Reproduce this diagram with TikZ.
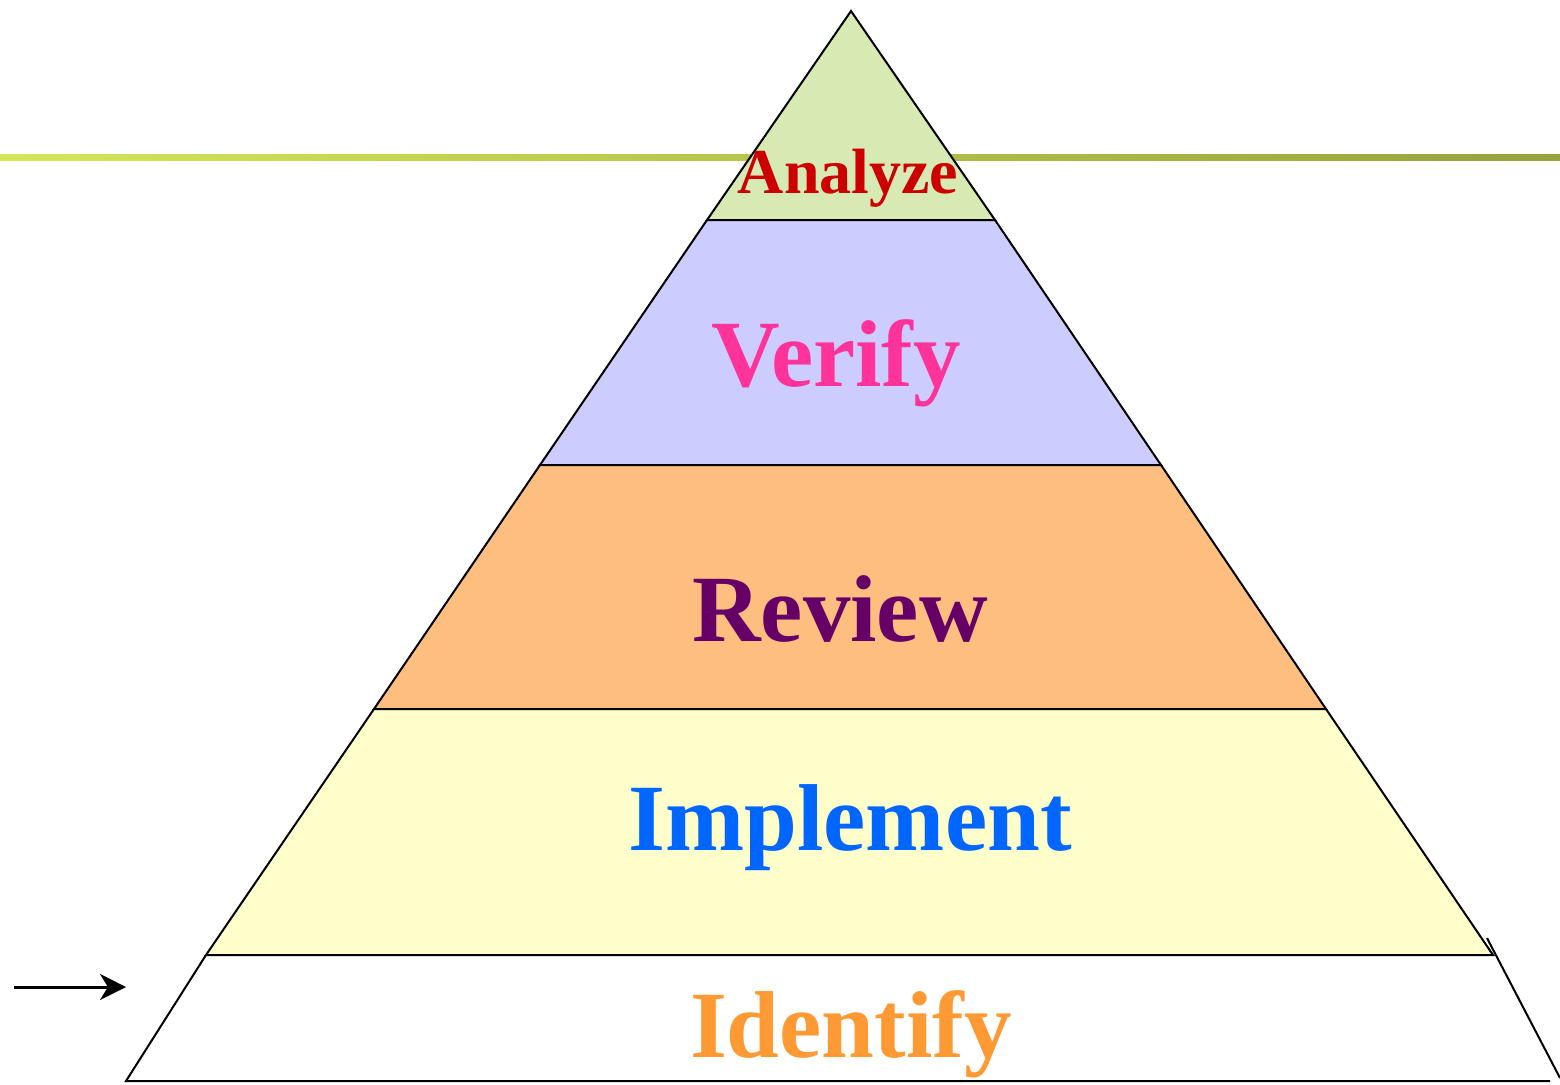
\documentclass[tikz,border=0pt]{standalone}
\usepackage{fontspec}
\setmainfont{Liberation Serif}
\usetikzlibrary{arrows.meta}

\definecolor{tipfill}{RGB}{216,234,180}
\definecolor{verifyfill}{RGB}{204,204,255}
\definecolor{reviewfill}{RGB}{253,190,128}
\definecolor{implfill}{RGB}{255,255,204}
\definecolor{ruleleft}{RGB}{212,230,88}
\definecolor{ruleright}{RGB}{150,162,60}
\definecolor{analyzetext}{RGB}{204,0,0}
\definecolor{verifytext}{RGB}{255,51,153}
\definecolor{reviewtext}{RGB}{102,0,102}
\definecolor{impltext}{RGB}{0,102,255}
\definecolor{identtext}{RGB}{255,153,51}

\begin{document}
\begin{tikzpicture}[x=0.5pt,y=-0.5pt,
  tier/.style={draw=black, line width=1pt, line join=miter},
  tierlabel/.style={font=\bfseries\fontsize{47.5}{50}\selectfont, anchor=base, inner sep=0pt},
  toplabel/.style={font=\bfseries\fontsize{32}{34}\selectfont, anchor=base, inner sep=0pt}]

\useasboundingbox (0,0) rectangle (1560,1084);

% horizontal title rule behind the pyramid
\shade[left color=ruleleft, right color=ruleright] (0,154) rectangle (1560,160);

% pyramid tiers, from the apex down
\filldraw[tier, fill=tipfill]    (851,11) -- (995,220) -- (707,220) -- cycle;
\filldraw[tier, fill=verifyfill] (707,220) -- (995,220) -- (1161,465) -- (540,465) -- cycle;
\filldraw[tier, fill=reviewfill] (540,465) -- (1161,465) -- (1326,709) -- (374,709) -- cycle;
\filldraw[tier, fill=implfill]   (374,709) -- (1326,709) -- (1493,955) -- (206,955) -- cycle;

% open base tier
\draw[tier] (206,955) -- (126,1081) -- (1550,1081);
\draw[tier] (1487,938) -- (1560,1078);

% tier labels
\node[toplabel,  text=analyzetext] (analyze)   at (848,193)  {Analyze};
\node[tierlabel, text=verifytext]  (verify)    at (836,386)  {Verify};
\node[tierlabel, text=reviewtext]  (review)    at (840,641)  {Review};
\node[tierlabel, text=impltext]    (implement) at (850,850)  {Implement};
\node[tierlabel, text=identtext]   (identify)  at (851,1057) {Identify};

% pointer to the base tier
\coordinate (arrowstart) at (14,987);
\coordinate (arrowend)   at (126,987);
\draw[line width=1.5pt, -{Stealth[length=13pt, width=13pt, inset=4pt]}] (arrowstart) -- (arrowend);

\end{tikzpicture}
\end{document}
